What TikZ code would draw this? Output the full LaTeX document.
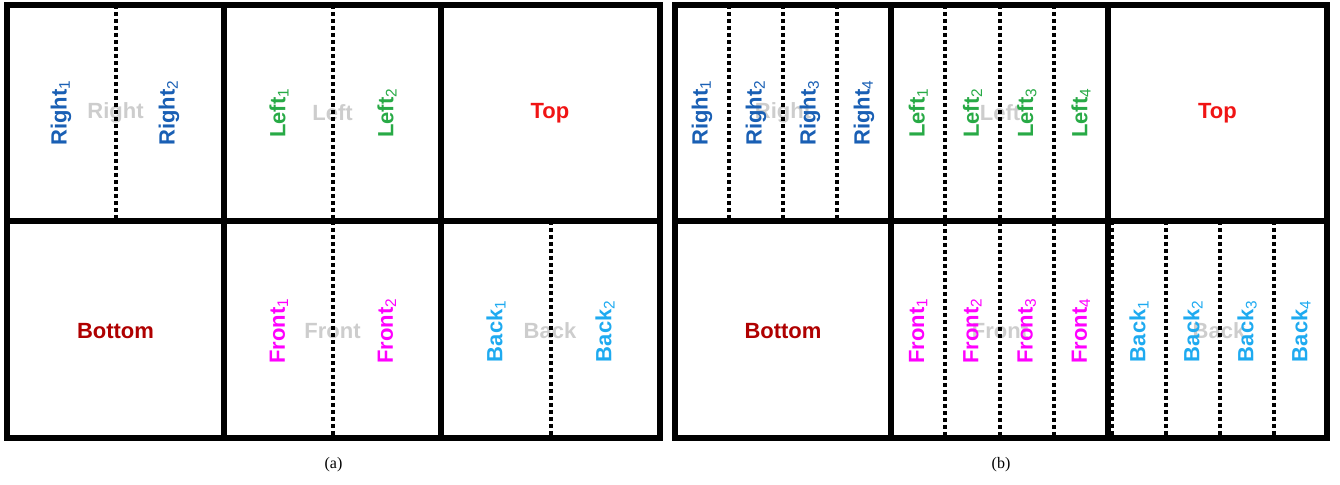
\documentclass[tikz,border=0pt]{standalone}
\usepackage{fontspec}
\setmainfont{Liberation Sans}
\newfontfamily\capfont{Liberation Serif}

\definecolor{rightblue}{RGB}{25,95,180}
\definecolor{leftgreen}{RGB}{40,170,70}
\definecolor{topred}{RGB}{240,20,20}
\definecolor{bottomred}{RGB}{175,0,0}
\definecolor{frontpink}{RGB}{255,0,255}
\definecolor{backblue}{RGB}{30,170,240}
\definecolor{ghostgrey}{RGB}{205,205,205}

\tikzset{
  cellline/.style={line width=3pt},
  cutline/.style={line width=2pt, dash pattern=on 2pt off 1.5pt},
  ghost/.style={text=ghostgrey, font=\bfseries\fontsize{11}{13}\selectfont},
  part/.style={rotate=90, font=\bfseries\fontsize{11}{13}\selectfont},
  face/.style={font=\bfseries\fontsize{11}{13}\selectfont},
  caption/.style={font=\capfont\fontsize{8}{10}\selectfont}
}
\newcommand{\sub}[1]{\textsubscript{\mdseries #1}}

\begin{document}
\begin{tikzpicture}[x=0.5pt,y=-0.5pt]
  \useasboundingbox (0,0) rectangle (1340,485);

  % (a)
  \node[ghost] (aright) at (115.5,113) {Right};
  \node[ghost] (aleft) at (332.5,113) {Left};
  \node[ghost] (afront) at (332.5,331) {Front};
  \node[ghost] (aback) at (550,331) {Back};

  \draw[cutline] (115.5,5) -- (115.5,221);
  \draw[cutline] (332.5,5) -- (332.5,221);
  \draw[cutline] (332.5,221) -- (332.5,438);
  \draw[cutline] (550.5,221) -- (550.5,438);

  \node[part, text=rightblue] (aright1) at (61,113) {Right\sub{1}};
  \node[part, text=rightblue] (aright2) at (169,113) {Right\sub{2}};
  \node[part, text=leftgreen] (aleft1) at (279,113) {Left\sub{1}};
  \node[part, text=leftgreen] (aleft2) at (387,113) {Left\sub{2}};
  \node[part, text=frontpink] (afront1) at (279,331) {Front\sub{1}};
  \node[part, text=frontpink] (afront2) at (387,331) {Front\sub{2}};
  \node[part, text=backblue] (aback1) at (496,331) {Back\sub{1}};
  \node[part, text=backblue] (aback2) at (605,331) {Back\sub{2}};
  \node[face, text=topred] (atop) at (550,113) {Top};
  \node[face, text=bottomred] (abottom) at (115.5,331) {Bottom};

  \draw[cellline] (7,5) rectangle (660,438);
  \draw[cellline] (224,5) -- (224,438);
  \draw[cellline] (441,5) -- (441,438);
  \draw[cellline] (7,221) -- (660,221);

  \node[caption] (capa) at (333.5,465) {(a)};

  % (b)
  \node[ghost] (bright) at (783,113) {Right};
  \node[ghost] (bleft) at (1000,113) {Left};
  \node[ghost] (bfront) at (1000,331) {Front};
  \node[ghost] (bback) at (1219,331) {Back};

  \foreach \i in {1,2,3} {
    \draw[cutline] (675+54*\i,5) -- (675+54*\i,221);
    \draw[cutline] (891+54.25*\i,5) -- (891+54.25*\i,438);
  }
  \foreach \i in {0,1,2,3}
    \draw[cutline] (1112+54*\i,221) -- (1112+54*\i,438);

  \foreach \i in {1,2,3,4} {
    \node[part, text=rightblue] (bright\i) at (648+54*\i,113) {Right\sub{\i}};
    \node[part, text=leftgreen] (bleft\i) at (864+54.25*\i,113) {Left\sub{\i}};
    \node[part, text=frontpink] (bfront\i) at (864+54.25*\i,331) {Front\sub{\i}};
    \node[part, text=backblue] (bback\i) at (1085+54*\i,331) {Back\sub{\i}};
  }
  \node[face, text=topred] (btop) at (1217.5,113) {Top};
  \node[face, text=bottomred] (bbottom) at (783,331) {Bottom};

  \draw[cellline] (675,5) rectangle (1327,438);
  \draw[cellline] (891,5) -- (891,438);
  \draw[cellline] (1108,5) -- (1108,438);
  \draw[cellline] (675,221) -- (1327,221);

  \node[caption] (capb) at (1001,465) {(b)};
\end{tikzpicture}
\end{document}
